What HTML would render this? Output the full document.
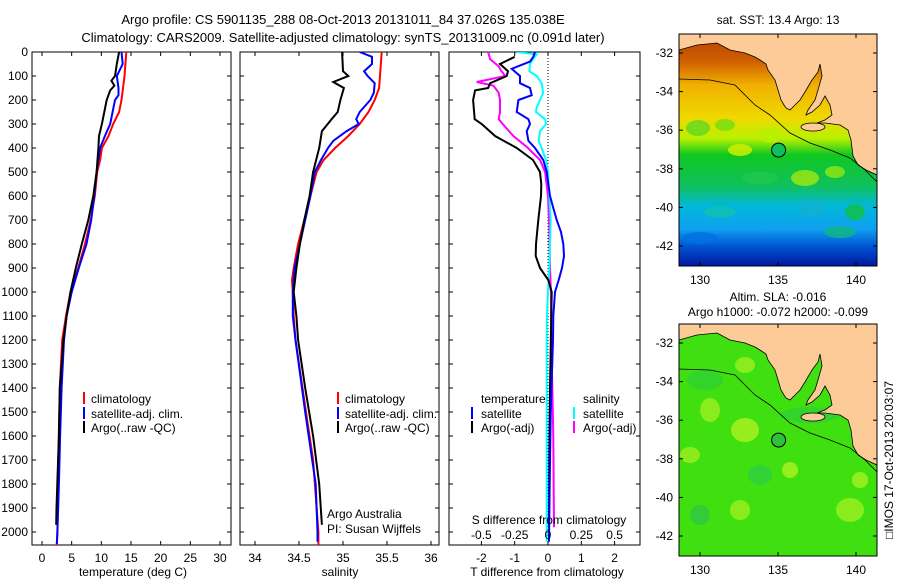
<!DOCTYPE html>
<html><head><meta charset="utf-8">
<style>
body{margin:0;background:#fff;}
svg{display:block;font-family:"Liberation Sans",sans-serif;}
text{fill:#000;}
</style></head>
<body>
<svg id="c" width="900" height="580" viewBox="0 0 900 580" xmlns="http://www.w3.org/2000/svg">
<defs>
<linearGradient id="sstGrad" x1="0" y1="0" x2="0" y2="1">
<stop offset="0" stop-color="#b84000"/>
<stop offset="0.12" stop-color="#d06000"/>
<stop offset="0.22" stop-color="#f0b000"/>
<stop offset="0.36" stop-color="#f0d800"/>
<stop offset="0.45" stop-color="#b8f000"/>
<stop offset="0.52" stop-color="#10c820"/>
<stop offset="0.66" stop-color="#10c060"/>
<stop offset="0.74" stop-color="#00b8d8"/>
<stop offset="0.84" stop-color="#10a0f0"/>
<stop offset="0.92" stop-color="#0050d0"/>
<stop offset="1" stop-color="#0018a0"/>
</linearGradient>
<clipPath id="m1clip"><rect x="679" y="34" width="198" height="232"/></clipPath>
<clipPath id="m2clip"><rect x="679" y="323" width="198" height="234"/></clipPath>
<clipPath id="p1"><rect x="32" y="52" width="199" height="493"/></clipPath>
<clipPath id="p2"><rect x="240" y="52" width="199" height="493"/></clipPath>
<clipPath id="p3"><rect x="449" y="52" width="191" height="493"/></clipPath>
</defs>
<g font-size="13">
<text x="343" y="24" text-anchor="middle">Argo profile: CS 5901135_288 08-Oct-2013 20131011_84 37.026S 135.038E</text>
<text x="343" y="42" text-anchor="middle">Climatology: CARS2009. Satellite-adjusted climatology: synTS_20131009.nc (0.091d later)</text>
</g>
<g id="plots"></g>
<g id="maps"></g>
</svg>
<script>
// ---------- DATA ----------
const yTicks = [0,100,200,300,400,500,600,700,800,900,1000,1100,1200,1300,1400,1500,1600,1700,1800,1900,2000];
const tTicks = [0,5,10,15,20,25,30];
const sTicks = [34,34.5,35,35.5,36];
const dtTicks = [-2,-1,0,1,2];
const dsTicks = [-0.5,-0.25,0,0.25,0.5];
const dsTickLabels = ["-0.5","-0.25","0","0.25","0.5"];

const tClimP = [0,100,200,250,300,350,400,450,500,600,700,800,900,1000,1100,1200,1400,1700,2000,2055];
const tClimV = [14.2,13.9,13.4,13.0,12.0,11.2,10.1,9.8,9.3,8.9,8.2,7.25,6.1,4.8,4.05,3.4,3.0,2.75,2.6,2.5];
const tSatP = [0,50,100,150,180,200,250,300,350,400,500,600,700,800,900,1000,1100,1200,1400,1600,1800,2000,2050];
const tSatV = [13.4,13.6,12.6,12.9,12.9,12.3,11.9,11.5,10.6,9.8,9.2,8.8,8.3,7.5,6.2,5.0,4.15,3.7,3.3,3.05,2.85,2.6,2.5];
const tArgoP = [0,50,100,120,140,160,200,250,300,350,400,500,600,700,800,900,1000,1100,1200,1400,1600,1900,1970];
const tArgoV = [13.0,12.6,12.3,11.7,12.2,11.5,10.9,10.5,10.1,9.6,9.5,9.2,8.65,7.8,6.7,5.7,4.8,4.15,3.6,3.0,2.85,2.45,2.4];

const sClimP = [0,150,200,250,300,350,400,450,500,600,700,800,900,950,1000,1100,1200,1500,1700,2000,2055];
const sClimV = [35.44,35.41,35.36,35.29,35.19,35.06,34.91,34.78,34.70,34.63,34.56,34.49,34.44,34.42,34.43,34.44,34.46,34.58,34.66,34.72,34.72];
const sSatP = [0,20,50,80,100,130,170,200,250,280,300,330,370,400,450,500,600,700,800,900,1000,1100,1200,1500,1800,2000,2040];
const sSatV = [35.19,35.33,35.33,35.24,35.28,35.36,35.35,35.31,35.19,35.15,35.18,35.04,34.89,34.83,34.75,34.68,34.63,34.57,34.51,34.45,34.43,34.43,34.46,34.57,34.69,34.71,34.71];
const sArgoP = [0,80,100,125,150,200,250,280,330,400,500,600,700,800,900,1000,1100,1200,1400,1600,1800,1970];
const sArgoV = [34.99,35.0,35.06,34.89,35.01,34.97,34.94,34.87,34.76,34.73,34.66,34.62,34.56,34.51,34.47,34.44,34.47,34.49,34.57,34.66,34.73,34.76];

const dTArgoP = [20,50,80,100,130,150,160,200,250,280,300,350,400,450,500,550,600,700,800,850,900,950,1000,1100,1400,1700,1980];
const dTArgoV = [-1.0,-1.44,-1.2,-1.24,-1.74,-1.8,-2.19,-2.25,-2.22,-2.2,-1.99,-1.59,-0.94,-0.45,-0.24,-0.2,-0.21,-0.29,-0.36,-0.37,-0.24,0.01,0.11,0.1,0.06,0.04,0.03];
const dTSatP = [0,20,40,70,100,130,150,180,200,250,280,300,330,370,400,450,500,600,650,700,750,800,850,900,950,1000,1100,1200,1500,1800,2040];
const dTSatV = [-0.39,-0.44,-0.54,-1.09,-0.84,-0.84,-0.54,-0.49,-0.89,-0.94,-0.59,-0.54,-0.64,-0.59,-0.39,-0.14,-0.04,0.06,0.16,0.26,0.39,0.46,0.48,0.42,0.32,0.21,0.16,0.15,0.08,0.05,0.03];
const dSSatP = [0,10,20,50,80,100,130,170,200,230,250,280,300,330,370,400,450,500,600,700,800,900,1000,1100,1200,1600,2040];
const dSSatV = [-0.235,-0.085,-0.1,-0.135,-0.14,-0.085,-0.048,-0.036,-0.06,-0.085,-0.09,-0.022,-0.015,-0.06,-0.07,-0.048,-0.015,0,0.01,0.02,0.015,0.01,0,-0.008,-0.01,-0.01,-0.01];
const dSArgoP = [0,30,60,80,100,125,140,170,200,250,280,300,350,400,450,500,600,700,900,1000,1200,1600,1980];
const dSArgoV = [-0.45,-0.435,-0.37,-0.35,-0.32,-0.535,-0.41,-0.37,-0.36,-0.36,-0.37,-0.34,-0.26,-0.15,-0.06,-0.022,0,0.008,0.015,0.022,0.025,0.04,0.045];

// ---------- helpers ----------
const NS="http://www.w3.org/2000/svg";
const plots=document.getElementById('plots');
function mk(tag,attrs,parent){const e=document.createElementNS(NS,tag);for(const k in attrs)e.setAttribute(k,attrs[k]);(parent||plots).appendChild(e);return e;}
const Y0=52,Y1=545;
const yS=p=>Y0+p*0.24;
function lin(d0,d1,r0,r1){return v=>r0+(v-d0)*(r1-r0)/(d1-d0);}
const xT=lin(0,30,42,220);
const xS=lin(34,36,255,431);
const xDT=lin(0,1,548,581.3);
const xDS=lin(0,0.25,548,581.3);

function panel(x0,x1,name,xs,ticks,labels,label,lx){
  const g=mk('g',{});
  
  
  const r=mk('rect',{x:x0,y:Y0,width:x1-x0,height:Y1-Y0,fill:'none',stroke:'#000','stroke-width':1},g);
  
  
  yTicks.forEach(p=>{
    const y=yS(p);
    mk('line',{x1:x0,x2:x0+4,y1:y,y2:y,stroke:'#000'},g);
    mk('line',{x1:x1-4,x2:x1,y1:y,y2:y,stroke:'#000'},g);
  });
  ticks.forEach((v,i)=>{
    const x=xs(v);
    mk('line',{x1:x,x2:x,y1:Y0,y2:Y0+4,stroke:'#000'},g);
    mk('line',{x1:x,x2:x,y1:Y1-4,y2:Y1,stroke:'#000'},g);
    const t=mk('text',{x:x,y:562,'font-size':12,'text-anchor':'middle'},g);
    t.textContent=labels[i];
    
    
  });
  const t=mk('text',{x:lx,y:576,'font-size':12,'text-anchor':'middle'},g);
  t.textContent=label;
  
  
  return g;
}
function series(P,V,xs,color,clip,name,w){
  const pts=P.map((p,i)=>xs(V[i]).toFixed(1)+','+yS(p).toFixed(1)).join(' ');
  const l=mk('polyline',{points:pts,fill:'none',stroke:color,'stroke-width':w||2,'clip-path':'url(#'+clip+')','stroke-linejoin':'miter'});
  
  
}
function txt(x,y,s,name,anchor,size){
  const t=mk('text',{x:x,y:y,'font-size':size||12,'text-anchor':anchor||'start'});
  t.textContent=s;
  
  
  return t;
}
function legTick(x,y,color){
  const l=mk('line',{x1:x,x2:x,y1:y-11,y2:y+1,stroke:color,'stroke-width':2});
  
  
}

yTicks.forEach(p=>{txt(28,yS(p)+4,String(p),'y-tick-label','end');});

panel(32,231,'temperature-panel',xT,tTicks,tTicks.map(String),'temperature (deg C)',133);
series(tClimP,tClimV,xT,'#ff0000','p1','temp-climatology-line');
series(tSatP,tSatV,xT,'#0000ff','p1','temp-satellite-line');
series(tArgoP,tArgoV,xT,'#000000','p1','temp-argo-line');
[['#ff0000','climatology',403],['#0000ff','satellite-adj. clim.',418],['#000000','Argo(..raw -QC)',432]].forEach(a=>{legTick(84,a[2],a[0]);txt(91,a[2],a[1],'legend-entry');});

panel(240,439,'salinity-panel',xS,sTicks,sTicks.map(String),'salinity',340);
series(sClimP,sClimV,xS,'#ff0000','p2','sal-climatology-line');
series(sSatP,sSatV,xS,'#0000ff','p2','sal-satellite-line');
series(sArgoP,sArgoV,xS,'#000000','p2','sal-argo-line');
[['#ff0000','climatology',403],['#0000ff','satellite-adj. clim.',418],['#000000','Argo(..raw -QC)',432]].forEach(a=>{legTick(338,a[2],a[0]);txt(345,a[2],a[1],'legend-entry');});
txt(327,518,'Argo Australia','pi-credit');
txt(327,533,'PI: Susan Wijffels','pi-credit');

panel(449,640,'difference-panel',xDT,dtTicks,dtTicks.map(String),'T difference from climatology',547);
const dl=mk('line',{x1:xDT(0),x2:xDT(0),y1:Y0,y2:Y1,stroke:'#000','stroke-dasharray':'1,2'});


series(dSArgoP,dSArgoV,xDS,'#ff00ff','p3','dsal-argo-line');
series(dSSatP,dSSatV,xDS,'#00ffff','p3','dsal-satellite-line');
series(dTArgoP,dTArgoV,xDT,'#000000','p3','dtemp-argo-line');
series(dTSatP,dTSatV,xDT,'#0000ff','p3','dtemp-satellite-line');
txt(481,403,'temperature','legend-title');
txt(583,403,'salinity','legend-title');
legTick(472,418,'#0000ff');txt(481,418,'satellite','legend-entry');
legTick(472,432,'#000000');txt(481,432,'Argo(-adj)','legend-entry');
legTick(574,418,'#00ffff');txt(583,418,'satellite','legend-entry');
legTick(574,432,'#ff00ff');txt(583,432,'Argo(-adj)','legend-entry');
txt(549,524,'S difference from climatology','s-axis-title','middle');
dsTicks.forEach((v,i)=>txt(xDS(v),539,dsTickLabels[i],'s-tick-label','middle'));

// ---------- MAPS ----------
const maps=document.getElementById('maps');
function mm(tag,attrs,parent){const e=document.createElementNS(NS,tag);for(const k in attrs)e.setAttribute(k,attrs[k]);(parent||maps).appendChild(e);return e;}
const land="679,50 697,45 717,43 730,50 745,53 755,57 760,60 766,64 768,70 775,80 778,90 781,100 784,105 786,108 790,110 795,105 800,100 805,92 812,80 818,72 820,64 822,76 818,90 815,100 808,110 806,115 812,112 820,105 825,96 830,105 832,115 825,120 817,123 825,123 840,125 848,130 851,140 853,156 858,165 866,170 877,175 877,34 679,34";
const shelf="679,79 710,80 735,85 745,95 755,105 770,115 790,133 810,143 830,150 850,158 865,170 877,182";
const lonT=[130,135,140], latT=[-32,-34,-36,-38,-40,-42];
const lonX=lon=>700+(lon-130)*15.6;
const latY=lat=>53+(-32-lat)*19.3;

function drawMap(off,name,clip,kind){
  const g=mm('g',{});
  
  
  const inner=mm('g',{'clip-path':'url(#'+clip+')'},g);
  const gi=mm('g',{transform:'translate(0,'+off+')'},inner);
  if(kind==='sst'){
    mm('rect',{x:679,y:34,width:198,height:232,fill:'url(#sstGrad)'},gi);
    const blobs=[[698,128,12,8,'#60d820'],[725,125,10,6,'#70e010'],[770,135,12,8,'#b8f000'],[740,150,12,6,'#d8f000'],[805,178,14,8,'#a0e810'],[835,172,10,6,'#90e810'],[760,178,18,6,'#20c850'],[720,212,16,6,'#10c0b0'],[700,238,18,6,'#0070e0'],[840,232,16,6,'#10b880'],[855,212,10,8,'#10c040'],[810,208,14,8,'#10b0d0']];
    blobs.forEach(b=>mm('ellipse',{cx:b[0],cy:b[1],rx:b[2],ry:b[3],fill:b[4],opacity:0.8},gi));
  } else {
    mm('rect',{x:679,y:34,width:198,height:232,fill:'#40e010'},gi);
    const blobs=[[705,90,18,10,'#30d030'],[710,120,10,12,'#98ec20'],[745,140,14,12,'#a8f020'],[690,165,10,8,'#98ec20'],[790,180,8,8,'#a8f020'],[860,190,8,8,'#a0f020'],[700,225,10,10,'#30c840'],[740,220,10,10,'#98ec20'],[810,125,30,8,'#30d030'],[760,185,12,10,'#30d040'],[850,220,14,12,'#98ec20'],[745,75,10,8,'#98ec20']];
    blobs.forEach(b=>mm('ellipse',{cx:b[0],cy:b[1],rx:b[2],ry:b[3],fill:b[4],opacity:0.85},gi));
  }
  mm('polygon',{points:land,fill:'#fccb98',stroke:'#000','stroke-width':0.8},gi);
  mm('ellipse',{cx:813,cy:127,rx:12,ry:4,fill:'#fccb98',stroke:'#000','stroke-width':0.8},gi);
  mm('polyline',{points:shelf,fill:'none',stroke:'#000','stroke-width':0.8},gi);
  const mk1=mm('circle',{cx:lonX(135.04),cy:latY(-37.03),r:7,fill:kind==='sst'?'#10c060':'#30c040',stroke:'#000','stroke-width':1},gi);
  
  
  mm('rect',{x:679,y:34+off,width:198,height:232,fill:'none',stroke:'#000'},g);
  const ga=mm('g',{'font-size':12},g);
  lonT.forEach(l=>{const x=lonX(l);
    mm('line',{x1:x,x2:x,y1:266+off,y2:262+off,stroke:'#000'},ga);
    mm('line',{x1:x,x2:x,y1:34+off,y2:38+off,stroke:'#000'},ga);
    const t=mm('text',{x:x,y:284+off,'text-anchor':'middle'},ga);t.textContent=String(l);});
  latT.forEach(l=>{const y=latY(l)+off;
    mm('line',{x1:679,x2:683,y1:y,y2:y,stroke:'#000'},ga);
    mm('line',{x1:873,x2:877,y1:y,y2:y,stroke:'#000'},ga);
    const t=mm('text',{x:673,y:y+4,'text-anchor':'end'},ga);t.textContent=String(l);});
}
drawMap(0,'sst-map','m1clip','sst');
drawMap(290,'sla-map','m2clip','sla');
function mt(x,y,s,name,extra){const t=mm('text',Object.assign({x:x,y:y,'font-size':12,'text-anchor':'middle'},extra||{}));t.textContent=s;}
mt(778,24,'sat. SST: 13.4 Argo: 13','sst-map-title');
mt(778,301,'Altim. SLA: -0.016','sla-map-title');
mt(778,316,'Argo h1000: -0.072 h2000: -0.099','sla-map-subtitle');
mt(893,460,'\u25A1IMOS 17-Oct-2013 20:03:07','imos-timestamp',{transform:'rotate(-90 893 460)'});
</script>
</body></html>
